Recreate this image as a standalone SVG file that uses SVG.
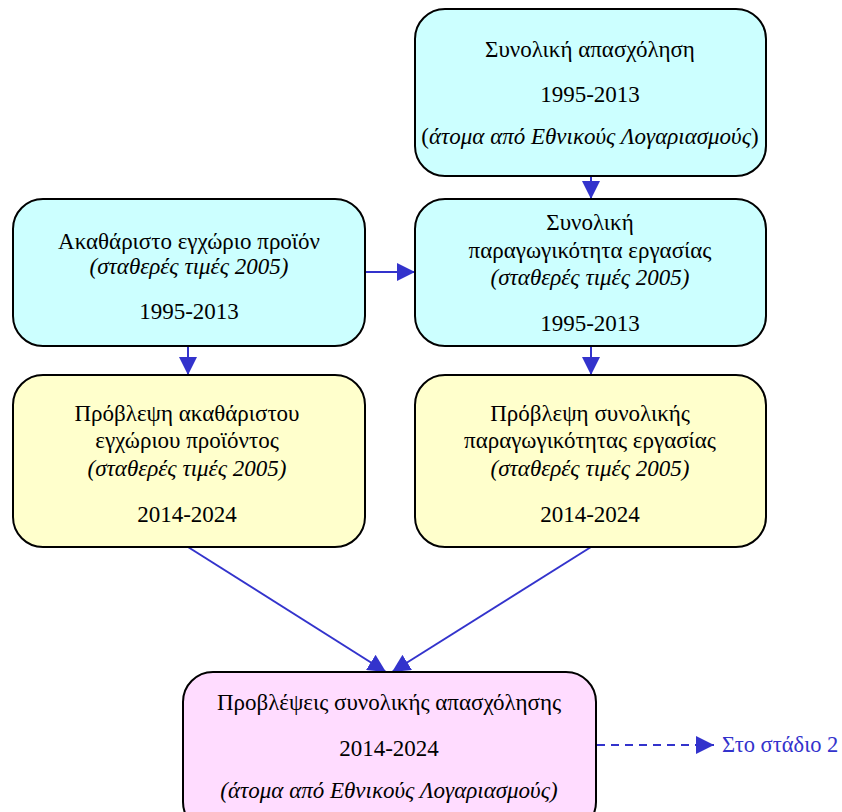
<svg xmlns="http://www.w3.org/2000/svg" width="842" height="812" viewBox="0 0 842 812">
<defs>
<style>
.box{stroke:#000;stroke-width:2}
.cy{fill:#ccffff}.ye{fill:#ffffcc}.pk{fill:#ffdcff}
text{font-family:"Liberation Serif","Times New Roman","DejaVu Serif",serif;font-size:23px;fill:#000;text-anchor:middle}
.it{font-style:italic}
.lnk{stroke:#3333cc;stroke-width:2;fill:none}
.lbl{fill:#3333cc;text-anchor:start;font-size:22.5px}
</style>
<marker id="ahb" viewBox="0 0 10 10" refX="10" refY="5" markerWidth="18" markerHeight="18" markerUnits="userSpaceOnUse" orient="auto">
<path d="M0,0 L10,5 L0,10 z" fill="#3333cc"/>
</marker>
</defs>
<rect width="842" height="812" fill="#fff"/>
<g id="connectors">
<line class="lnk" x1="591" y1="176" x2="591" y2="199" marker-end="url(#ahb)"/>
<line class="lnk" x1="365" y1="272" x2="415" y2="272" marker-end="url(#ahb)"/>
<line class="lnk" x1="188" y1="346" x2="188" y2="375" marker-end="url(#ahb)"/>
<line class="lnk" x1="591" y1="346" x2="591" y2="375" marker-end="url(#ahb)"/>
<line class="lnk" x1="188" y1="547" x2="386" y2="672" marker-end="url(#ahb)"/>
<line class="lnk" x1="591" y1="547" x2="392" y2="672" marker-end="url(#ahb)"/>
<line class="lnk" x1="597" y1="745" x2="714" y2="745" stroke-dasharray="8,6" marker-end="url(#ahb)"/>
<text class="lbl" x="722" y="752">Στο στάδιο 2</text>
</g>
<g id="n1">
<rect class="box cy" x="415" y="9" width="351" height="167" rx="30"/>
<text x="590" y="57">Συνολική απασχόληση</text>
<text x="590" y="102">1995-2013</text>
<text x="590" y="144"><tspan>(</tspan><tspan class="it">άτομα από Εθνικούς Λογαριασμούς</tspan><tspan>)</tspan></text>
</g>
<g id="n2">
<rect class="box cy" x="13" y="199" width="352" height="147" rx="30"/>
<text x="189" y="249">Ακαθάριστο εγχώριο προϊόν</text>
<text class="it" x="189" y="274">(σταθερές τιμές 2005)</text>
<text x="189" y="319">1995-2013</text>
</g>
<g id="n3">
<rect class="box cy" x="415" y="199" width="351" height="147" rx="30"/>
<text x="590" y="230">Συνολική</text>
<text x="590" y="258">παραγωγικότητα εργασίας</text>
<text class="it" x="590" y="285">(σταθερές τιμές 2005)</text>
<text x="590" y="331">1995-2013</text>
</g>
<g id="n4">
<rect class="box ye" x="13" y="375" width="352" height="172" rx="30"/>
<text x="187" y="421">Πρόβλεψη ακαθάριστου</text>
<text x="187" y="448">εγχώριου προϊόντος</text>
<text class="it" x="187" y="476">(σταθερές τιμές 2005)</text>
<text x="187" y="522">2014-2024</text>
</g>
<g id="n5">
<rect class="box ye" x="415" y="375" width="351" height="172" rx="30"/>
<text x="590" y="421">Πρόβλεψη συνολικής</text>
<text x="590" y="448">παραγωγικότητας εργασίας</text>
<text class="it" x="590" y="476">(σταθερές τιμές 2005)</text>
<text x="590" y="522">2014-2024</text>
</g>
<g id="n6">
<rect class="box pk" x="183" y="672" width="413" height="160" rx="30"/>
<text x="389" y="710">Προβλέψεις συνολικής απασχόλησης</text>
<text x="389" y="756">2014-2024</text>
<text class="it" x="389" y="798">(άτομα από Εθνικούς Λογαριασμούς)</text>
</g>
</svg>
